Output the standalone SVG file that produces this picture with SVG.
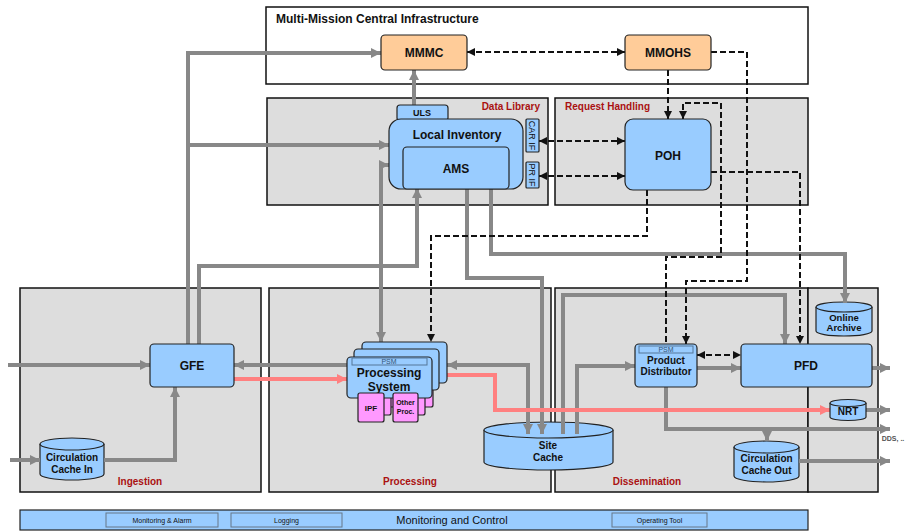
<svg xmlns="http://www.w3.org/2000/svg" width="906" height="532" viewBox="0 0 906 532">
  <defs>
    <style>
      text { font-family: "Liberation Sans", Arial, sans-serif; font-weight: bold; fill: #111; text-anchor: middle; }
      .area { fill: #DDDDDD; stroke: #111; stroke-width: 1.5; }
      .node { fill: #99CCFF; stroke: #222; stroke-width: 1.2; }
      .mm { fill: #FFCC99; stroke: #222; stroke-width: 1.2; }
      .proc { fill: #FF99FF; stroke: #222; stroke-width: 1.2; }
      .sec { fill: #AA1111; font-size: 10px; }
      .lbl { font-size: 12px; }
      .small { font-size: 9px; }
      .psm { fill: none; stroke: #557799; stroke-width: 1; }
      .psmt { font-size: 7px; font-weight: normal; fill: #335577; }
      .g { fill: none; stroke: #888888; stroke-width: 4; }
      .pk { fill: none; stroke: #FF8080; stroke-width: 4; }
      .d { fill: none; stroke: #111; stroke-width: 2; stroke-dasharray: 6 3; }
      .narrow { font-family: "Liberation Sans Narrow", "Liberation Sans", Arial, sans-serif; }
    </style>
    <marker id="ag" viewBox="0 0 10 10" refX="10" refY="5" markerWidth="11" markerHeight="10" markerUnits="userSpaceOnUse" orient="auto-start-reverse">
      <path d="M0,0 L10,5 L0,10 z" fill="#888888"/>
    </marker>
    <marker id="ap" viewBox="0 0 10 10" refX="10" refY="5" markerWidth="11" markerHeight="10" markerUnits="userSpaceOnUse" orient="auto-start-reverse">
      <path d="M0,0 L10,5 L0,10 z" fill="#FF8080"/>
    </marker>
    <marker id="ad" viewBox="0 0 10 10" refX="10" refY="5" markerWidth="9" markerHeight="8" markerUnits="userSpaceOnUse" orient="auto-start-reverse">
      <path d="M0,0 L10,5 L0,10 z" fill="#111"/>
    </marker>
  </defs>

  <rect width="906" height="532" fill="#FFFFFF"/>

  <!-- areas -->
  <g id="areas">
    <rect x="266" y="7" width="542" height="77" fill="#FFFFFF" stroke="#111" stroke-width="1.5"/>
    <text x="276" y="23" style="text-anchor:start;font-size:12px">Multi-Mission Central Infrastructure</text>
    <rect class="area" x="267" y="98" width="281" height="107"/>
    <text class="sec" x="540" y="110" style="text-anchor:end">Data Library</text>
    <rect class="area" x="555" y="98" width="253" height="107"/>
    <text class="sec" x="565" y="110" style="text-anchor:start">Request Handling</text>
    <rect class="area" x="20" y="288" width="241" height="204"/>
    <text class="sec" x="140" y="485">Ingestion</text>
    <rect class="area" x="269" y="288" width="282" height="204"/>
    <text class="sec" x="410" y="485">Processing</text>
    <rect class="area" x="555" y="288" width="253" height="204"/>
    <text class="sec" x="647" y="485">Dissemination</text>
    <rect class="area" x="808" y="288" width="70" height="204"/>
  </g>

  <!-- storage nodes (drawn below the flows that enter them) -->
  <g id="site-cache">
    <path class="node" d="M484,430 V462 A64.5,8 0 0 0 613,462 V430"/>
    <ellipse class="node" cx="548.5" cy="430" rx="64.5" ry="8"/>
    <text class="small" x="548" y="449" style="font-size:10px">Site</text>
    <text class="small" x="548" y="461" style="font-size:10px">Cache</text>
  </g>
  <g id="circulation-cache-in">
    <path class="node" d="M40,444 V474 A32,6 0 0 0 104,474 V444"/>
    <ellipse class="node" cx="72" cy="444" rx="32" ry="6"/>
    <text class="small" x="72" y="461" style="font-size:10px">Circulation</text>
    <text class="small" x="72" y="473" style="font-size:10px">Cache In</text>
  </g>
  <g id="online-archive">
    <path class="node" d="M816,307 V331 A28,5 0 0 0 872,331 V307"/>
    <ellipse class="node" cx="844" cy="307" rx="28" ry="5"/>
    <text x="844" y="321" style="font-size:9.5px">Online</text>
    <text x="844" y="331" style="font-size:9.5px">Archive</text>
  </g>
  <g id="circulation-cache-out">
    <path class="node" d="M734,447 V476 A32.5,6 0 0 0 799,476 V447"/>
    <ellipse class="node" cx="766.5" cy="447" rx="32.5" ry="6"/>
    <text x="766.5" y="462" style="font-size:10px">Circulation</text>
    <text x="766.5" y="474" style="font-size:10px">Cache Out</text>
  </g>

  <!-- connectors -->
  <g id="connectors">
    <!-- gray data flows -->
    <path class="g" d="M188,344 V53 H381" marker-end="url(#ag)"/>
    <path class="g" d="M188,145 H389" marker-end="url(#ag)"/>
    <path class="g" d="M199,344 V266 H417 V188" marker-end="url(#ag)"/>
    <path class="g" d="M381,342 V165 H389" marker-start="url(#ag)" marker-end="url(#ag)"/>
    <path class="g" d="M414,105 V70" marker-end="url(#ag)"/>
    <path class="g" d="M467,188 V278 H542 V434" marker-end="url(#ag)"/>
    <path class="g" d="M491,188 V254 H845 V303" marker-end="url(#ag)"/>
    <path class="g" d="M447,365 H528 V434" marker-start="url(#ag)" marker-end="url(#ag)"/>
    <path class="g" d="M563,434 V295 H785 V344" marker-end="url(#ag)"/>
    <path class="g" d="M577,434 V366 H635" marker-end="url(#ag)"/>
    <path class="g" d="M697,368 H741" marker-end="url(#ag)"/>
    <path class="g" d="M666,387 V429 H890" marker-end="url(#ag)"/>
    <path class="g" d="M767,429 V441" marker-end="url(#ag)"/>
    <path class="g" d="M872,368 H890" marker-end="url(#ag)"/>
    <path class="g" d="M866,410 H890" marker-end="url(#ag)"/>
    <path class="g" d="M799,461 H890" marker-end="url(#ag)"/>
    <path class="g" d="M347,365 H234" marker-end="url(#ag)"/>
    <path class="g" d="M8,365 H150" marker-end="url(#ag)"/>
    <path class="g" d="M10,460 H40" marker-end="url(#ag)"/>
    <path class="g" d="M104,460 H175 V387" marker-end="url(#ag)"/>
    <!-- near-real-time flow -->
    <path class="pk" d="M234,379 H347" marker-end="url(#ap)"/>
    <path class="pk" d="M447,375 H495 V410 H830" marker-end="url(#ap)"/>
    <!-- control / order flows -->
    <path class="d" d="M467,52 H625" marker-start="url(#ad)" marker-end="url(#ad)"/>
    <path class="d" d="M668,70 V119" marker-end="url(#ad)"/>
    <path class="d" d="M683,119 V103 H721 V257 H666 V344" marker-start="url(#ad)"/>
    <path class="d" d="M711,52 H747 V281 H686 V344" marker-end="url(#ad)"/>
    <path class="d" d="M711,172 H800 V344" marker-end="url(#ad)"/>
    <path class="d" d="M647,190 V236 H431 V342" marker-end="url(#ad)"/>
    <path class="d" d="M539,141 H625" marker-start="url(#ad)" marker-end="url(#ad)"/>
    <path class="d" d="M539,176 H625" marker-start="url(#ad)" marker-end="url(#ad)"/>
    <path class="d" d="M697,355 H741" marker-start="url(#ad)" marker-end="url(#ad)"/>
    <text x="893" y="441" style="font-size:7px;fill:#555">DDS, ..</text>
  </g>

  <!-- nodes -->
  <g id="mmmc">
    <rect class="mm" x="381" y="35" width="86" height="35" rx="4"/>
    <text class="lbl" x="424" y="57">MMMC</text>
  </g>
  <g id="mmohs">
    <rect class="mm" x="625" y="35" width="86" height="35" rx="4"/>
    <text class="lbl" x="668" y="57">MMOHS</text>
  </g>
  <g id="uls">
    <rect class="node" x="397" y="105" width="51" height="16" rx="3"/>
    <text class="small" x="422" y="116">ULS</text>
  </g>
  <g id="local-inventory">
    <rect class="node" x="389" y="119" width="134" height="70" rx="12"/>
    <text class="lbl" x="457" y="139">Local Inventory</text>
  </g>
  <g id="ams">
    <rect class="node" x="403" y="147" width="106" height="42" rx="4"/>
    <text class="lbl" x="456" y="173">AMS</text>
  </g>
  <g id="car-if">
    <rect class="node" x="526" y="119" width="13" height="33" rx="1"/>
    <text x="0" y="0" transform="translate(529,135.5) rotate(90)" style="font-size:9px;font-weight:normal">CAR IF</text>
  </g>
  <g id="pr-if">
    <rect class="node" x="526" y="162" width="13" height="26" rx="1"/>
    <text x="0" y="0" transform="translate(529,175) rotate(90)" style="font-size:9px;font-weight:normal">PR IF</text>
  </g>
  <g id="poh">
    <rect class="node" x="625" y="119" width="86" height="71" rx="8"/>
    <text class="lbl" x="668" y="160">POH</text>
  </g>
  <g id="gfe">
    <rect class="node" x="150" y="344" width="84" height="43" rx="4"/>
    <text class="lbl" x="192" y="370">GFE</text>
  </g>
  <g id="processing-system">
    <rect class="node" x="362" y="342" width="85" height="41" rx="4"/>
    <rect class="proc" x="373" y="378" width="26" height="29" rx="2"/>
    <rect class="proc" x="408" y="378" width="25" height="29" rx="2"/>
    <rect class="node" x="354" y="349" width="85" height="41" rx="4"/>
    <rect class="proc" x="365" y="386" width="26" height="29" rx="2"/>
    <rect class="proc" x="400" y="386" width="25" height="29" rx="2"/>
    <rect class="node" x="347" y="357" width="85" height="41" rx="4"/>
    <rect class="psm" x="352" y="358" width="75" height="7"/>
    <text class="psmt" x="389" y="364">PSM</text>
    <text x="389" y="376.5" style="font-size:12px">Processing</text>
    <text x="389" y="390.5" style="font-size:12px">System</text>
    <rect class="proc" x="358" y="393" width="26" height="29" rx="2"/>
    <text x="371" y="411" style="font-size:8px">IPF</text>
    <rect class="proc" x="393" y="393" width="25" height="29" rx="2"/>
    <text x="405.5" y="405" style="font-size:7px">Other</text>
    <text x="405.5" y="414" style="font-size:7px">Proc.</text>
  </g>
  <g id="product-distributor">
    <rect class="node" x="635" y="344" width="62" height="43" rx="4"/>
    <rect class="psm" x="639" y="346" width="54" height="7"/>
    <text class="psmt" x="666" y="352">PSM</text>
    <text x="666" y="364" style="font-size:10px">Product</text>
    <text x="666" y="375" style="font-size:10px">Distributor</text>
  </g>
  <g id="pfd">
    <rect class="node" x="741" y="344" width="131" height="43" rx="4"/>
    <text class="lbl" x="806" y="370">PFD</text>
  </g>
  <g id="nrt">
    <path class="node" d="M830,403 V417 A18,3.5 0 0 0 866,417 V403"/>
    <ellipse class="node" cx="848" cy="403" rx="18" ry="3.5"/>
    <text x="848" y="415" style="font-size:10px">NRT</text>
  </g>

  <!-- monitoring and control bar -->
  <g id="monitoring-and-control">
    <rect x="20" y="510" width="788" height="20" fill="#99CCFF" stroke="#222" stroke-width="1.2"/>
    <rect x="106" y="513" width="112" height="14" fill="none" stroke="#667788" stroke-width="1"/>
    <text class="narrow" x="162" y="523" style="font-size:7px;font-weight:normal">Monitoring &amp; Alarm</text>
    <rect x="231" y="513" width="111" height="14" fill="none" stroke="#667788" stroke-width="1"/>
    <text class="narrow" x="286.5" y="523" style="font-size:7px;font-weight:normal">Logging</text>
    <text class="narrow" x="452" y="524" style="font-size:11px;font-weight:normal">Monitoring and Control</text>
    <rect x="612" y="513" width="95" height="14" fill="none" stroke="#667788" stroke-width="1"/>
    <text class="narrow" x="659.5" y="523" style="font-size:7px;font-weight:normal">Operating Tool</text>
  </g>
</svg>
